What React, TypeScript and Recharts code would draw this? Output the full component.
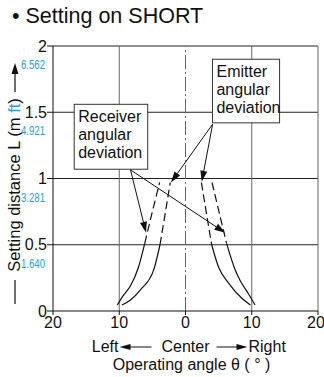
import { LineChart, Line, XAxis, YAxis, CartesianGrid, ReferenceLine, ReferenceArea } from "recharts"

const FONT = "'Liberation Sans', Arial, sans-serif"
const BLUE = "#1ea0e6"

const xTicks = [-20, -10, 0, 10, 20]
const yTicks = [0, 0.5, 1, 1.5, 2]
const ftLabels = ["", "1.640", "3.281", "4.921", "6.562"]

// receiver deviation: outer pair of curves
const outerLeftSolid = [
  { a: -10.3, L: 0.045 },
  { a: -9.35, L: 0.12 },
  { a: -8.3, L: 0.19 },
  { a: -7.1, L: 0.33 },
  { a: -6.15, L: 0.51 },
]
const outerLeftDash = [
  { a: -6.15, L: 0.51 },
  { a: -5.0, L: 0.75 },
  { a: -3.9, L: 0.97 },
]
const outerRightDash = [
  { a: 4.0, L: 0.97 },
  { a: 5.1, L: 0.74 },
  { a: 6.2, L: 0.51 },
]
const outerRightSolid = [
  { a: 6.2, L: 0.51 },
  { a: 7.5, L: 0.31 },
  { a: 8.25, L: 0.23 },
  { a: 9.5, L: 0.13 },
  { a: 10.5, L: 0.045 },
]

// emitter deviation: inner pair of curves
const innerLeftSolid = [
  { a: -9.6, L: 0.045 },
  { a: -8.3, L: 0.083 },
  { a: -6.8, L: 0.16 },
  { a: -4.8, L: 0.31 },
  { a: -3.85, L: 0.5 },
]
const innerLeftDash = [
  { a: -3.85, L: 0.5 },
  { a: -3.05, L: 0.74 },
  { a: -2.3, L: 0.97 },
]
const innerRightDash = [
  { a: 2.4, L: 0.97 },
  { a: 3.15, L: 0.74 },
  { a: 3.95, L: 0.5 },
]
const innerRightSolid = [
  { a: 3.95, L: 0.5 },
  { a: 5.0, L: 0.33 },
  { a: 6.5, L: 0.21 },
  { a: 8.5, L: 0.096 },
  { a: 9.8, L: 0.045 },
]

const solidSeries = [outerLeftSolid, innerLeftSolid, innerRightSolid, outerRightSolid]
const dashSeries = [outerLeftDash, innerLeftDash, innerRightDash, outerRightDash]

// callouts
const receiverLines = ["Receiver", "angular", "deviation"]
const emitterLines = ["Emitter", "angular", "deviation"]
const receiverArrows = [
  [{ x: -8.3, y: 1.065 }, { x: -5.95, y: 0.59 }],
  [{ x: -8.3, y: 1.065 }, { x: 6.0, y: 0.59 }],
]
const emitterArrows = [
  [{ x: 4.1, y: 1.41 }, { x: -2.2, y: 0.97 }],
  [{ x: 4.1, y: 1.41 }, { x: 2.45, y: 0.975 }],
]

function boxShape(lines: string[]) {
  return (p: any) => (
    <g>
      <rect x={p.x} y={p.y} width={p.width} height={p.height} fill="#fff" stroke="#333" strokeWidth={1} />
      {lines.map((t, i) => (
        <text key={i} x={p.x + 4} y={p.y + 17.5 + i * 18} fontSize={16} fontFamily={FONT} fill="#111">
          {t}
        </text>
      ))}
    </g>
  )
}

function ArrowShape(p: any) {
  const { x1, y1, x2, y2 } = p
  const ang = Math.atan2(y2 - y1, x2 - x1)
  const len = 11
  const hw = 3.5
  const bx = x2 - len * Math.cos(ang)
  const by = y2 - len * Math.sin(ang)
  const nx = -Math.sin(ang) * hw
  const ny = Math.cos(ang) * hw
  return (
    <g>
      <line x1={x1} y1={y1} x2={bx} y2={by} stroke="#111" strokeWidth={1} />
      <polygon points={`${x2},${y2} ${bx + nx},${by + ny} ${bx - nx},${by - ny}`} fill="#111" />
    </g>
  )
}

function YTick(p: any) {
  const { x, y, payload } = p
  const idx = yTicks.indexOf(payload.value)
  const ft = ftLabels[idx]
  return (
    <g>
      <text x={x} y={y} dy={5.5} textAnchor="end" fontSize={16} fontFamily={FONT} fill="#111">
        {String(payload.value)}
      </text>
      {ft && (
        <text x={x - 26} y={y + 23} fontSize={12.5} fontFamily={FONT} fill={BLUE} textLength={24} lengthAdjust="spacingAndGlyphs">
          {ft}
        </text>
      )}
    </g>
  )
}

function XTick(p: any) {
  const { x, y, payload } = p
  return (
    <text x={x} y={y} dy="0.71em" textAnchor="middle" fontSize={16} fontFamily={FONT} fill="#111">
      {Math.abs(payload.value)}
    </text>
  )
}

function YLabel(p: any) {
  const vb = p.viewBox || { x: 0, y: 46, width: 53, height: 265 }
  const cy = vb.y + vb.height / 2 + 6.5
  const lx = 15
  return (
    <g>
      <text
        x={20}
        y={cy}
        transform={`rotate(-90 20 ${cy})`}
        textAnchor="middle"
        fontSize={16.5}
        fontFamily={FONT}
        fill="#111"
      >
        Setting distance L (m <tspan fill={BLUE}>ft</tspan>)
      </text>
      <line x1={lx} y1={vb.y + 46} x2={lx} y2={vb.y + 26} stroke="#111" strokeWidth={1.2} />
      <polygon points={`${lx},${vb.y + 17} ${lx - 3.5},${vb.y + 28} ${lx + 3.5},${vb.y + 28}`} fill="#111" />
      <line x1={lx} y1={vb.y + 234} x2={lx} y2={vb.y + 258} stroke="#111" strokeWidth={1.2} />
    </g>
  )
}

function XLabel(p: any) {
  const vb = p.viewBox || { x: 53, y: 311, width: 265, height: 66 }
  const cx = vb.x + vb.width / 2
  const y1 = vb.y + 41
  const y2 = vb.y + 59
  const ay = y1 - 5
  const common = { fontSize: 16, fontFamily: FONT, fill: "#111" }
  return (
    <g>
      <text x={cx - 67} y={y1} textAnchor="end" {...common}>Left</text>
      <line x1={cx - 34} y1={ay} x2={cx - 56} y2={ay} stroke="#111" strokeWidth={1} />
      <polygon points={`${cx - 66},${ay} ${cx - 55},${ay - 3} ${cx - 55},${ay + 3}`} fill="#111" />
      <text x={cx} y={y1} textAnchor="middle" {...common}>Center</text>
      <line x1={cx + 31} y1={ay} x2={cx + 53} y2={ay} stroke="#111" strokeWidth={1} />
      <polygon points={`${cx + 62},${ay} ${cx + 51},${ay - 3} ${cx + 51},${ay + 3}`} fill="#111" />
      <text x={cx + 63} y={y1} textAnchor="start" {...common}>Right</text>
      <text x={cx + 6} y={y2} textAnchor="middle" {...common}>Operating angle θ ( ° )</text>
    </g>
  )
}

export default function App() {
  return (
    <div style={{ position: "absolute", left: 0, top: 0, width: 324, height: 377, background: "#fff" }}>
      <div
        style={{
          position: "absolute",
          left: 12,
          top: 6,
          fontSize: 21.5,
          lineHeight: "21px",
          fontFamily: FONT,
          color: "#111",
          whiteSpace: "nowrap",
        }}
      >
        • Setting on SHORT
      </div>
      <LineChart width={324} height={377} margin={{ top: 46, right: 6, bottom: 0, left: 0 }}>
        <CartesianGrid horizontal={true} vertical={false} horizontalValues={[0.5, 1, 1.5, 2]} stroke="#222" strokeDasharray="" />
        <CartesianGrid horizontal={false} vertical={true} verticalValues={[-10, 10, 20]} stroke="#666" strokeDasharray="" />
        <XAxis
          type="number"
          dataKey="a"
          domain={[-20, 20]}
          ticks={xTicks}
          allowDataOverflow
          height={66}
          tickSize={4}
          tickMargin={2}
          tick={<XTick />}
          axisLine={{ stroke: "#111" }}
          tickLine={{ stroke: "#111" }}
          label={<XLabel />}
        />
        <YAxis
          type="number"
          dataKey="L"
          domain={[0, 2]}
          ticks={yTicks}
          allowDataOverflow
          width={53}
          tickSize={6}
          tickMargin={0}
          tick={<YTick />}
          axisLine={{ stroke: "#111" }}
          tickLine={{ stroke: "#111" }}
          label={<YLabel />}
        />
        <ReferenceLine x={0} stroke="#666" strokeDasharray="14 3 2 3" />
        {solidSeries.map((d, i) => (
          <Line
            key={"s" + i}
            data={d}
            dataKey="L"
            type="monotone"
            stroke="#111"
            strokeWidth={1.2}
            dot={false}
            activeDot={false}
            isAnimationActive={false}
          />
        ))}
        {dashSeries.map((d, i) => (
          <Line
            key={"d" + i}
            data={d}
            dataKey="L"
            type="monotone"
            stroke="#111"
            strokeWidth={1.2}
            strokeDasharray="8 4"
            dot={false}
            activeDot={false}
            isAnimationActive={false}
          />
        ))}
        <ReferenceArea x1={-16.8} x2={-5.7} y1={1.07} y2={1.56} shape={boxShape(receiverLines)} />
        <ReferenceArea x1={4.07} x2={14.2} y1={1.42} y2={1.9} shape={boxShape(emitterLines)} />
        {receiverArrows.concat(emitterArrows).map((seg, i) => (
          <ReferenceLine key={"a" + i} segment={seg} shape={ArrowShape} />
        ))}
      </LineChart>
    </div>
  )
}
